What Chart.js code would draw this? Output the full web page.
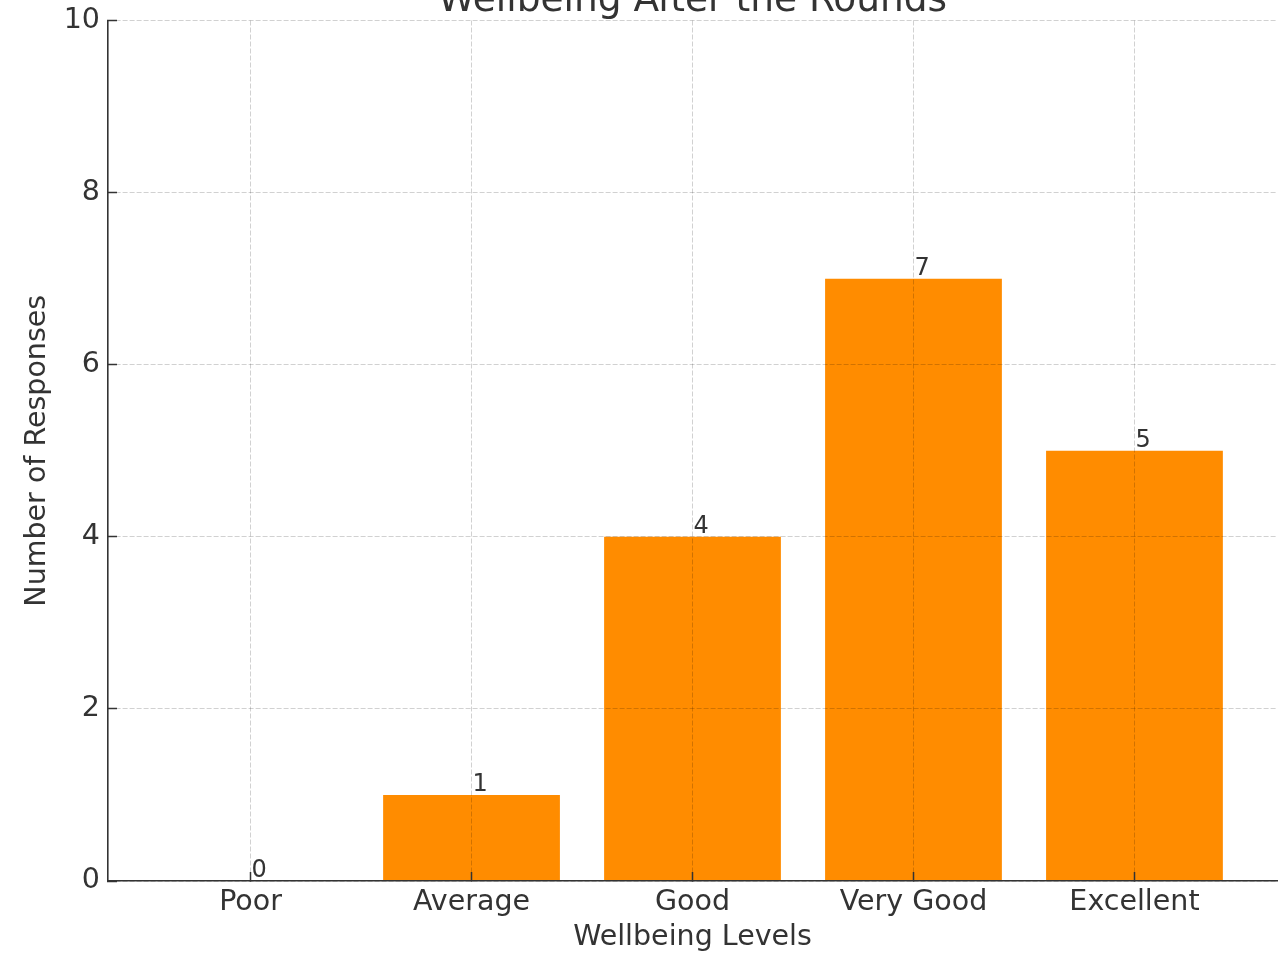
<!DOCTYPE html>
<html>
<head>
<meta charset="utf-8">
<script src="https://cdn.jsdelivr.net/npm/chart.js@4"></script>
<style>
  html, body { margin: 0; padding: 0; background: #fff; overflow: hidden; }
  #wrap { position: absolute; left: 0; top: -40px; width: 1281px; height: 995px; }
</style>
</head>
<body>
<div id="wrap"><canvas id="chart" width="1281" height="995"></canvas></div>
<script>
const categories = ["Poor", "Average", "Good", "Very Good", "Excellent"];
const responses = [0, 1, 4, 7, 5];
const yTicks = [0, 2, 4, 6, 8, 10];

const FONT = "'DejaVu Sans', sans-serif";
const TEXT = "#333333";
const GRID = "rgba(0,0,0,0.18)";
const LABEL_SIZE = 28.5;

// value labels sit just above each bar, starting at the bar's centre
const barLabels = {
  id: "barLabels",
  afterDraw(chart) {
    const ctx = chart.ctx;
    const meta = chart.getDatasetMeta(0);
    ctx.save();
    ctx.font = "24px " + FONT;
    ctx.fillStyle = TEXT;
    ctx.textAlign = "left";
    ctx.textBaseline = "alphabetic";
    meta.data.forEach((bar, i) => {
      ctx.fillText(String(responses[i]), bar.x + 1, bar.y - 4);
    });
    ctx.restore();
  }
};

new Chart(document.getElementById("chart"), {
  type: "bar",
  data: {
    datasets: [{
      data: responses.map((v, i) => ({ x: i, y: v })),
      backgroundColor: "#ff8c00",
      borderWidth: 0,
      categoryPercentage: 0.8,
      barPercentage: 1
    }]
  },
  options: {
    responsive: false,
    animation: false,
    layout: { padding: { top: 0, right: 4, bottom: 0, left: 0 } },
    plugins: {
      legend: { display: false },
      tooltip: { enabled: false },
      title: {
        display: true,
        fullSize: false,
        text: "Wellbeing After the Rounds",
        color: TEXT,
        font: { family: FONT, size: 37.5, weight: "normal", lineHeight: 1 },
        padding: { top: 23, bottom: 0 }
      }
    },
    scales: {
      x: {
        type: "linear",
        offset: false,
        min: -0.645,
        max: 4.645,
        afterBuildTicks: s => { s.ticks = categories.map((_, i) => ({ value: i })); },
        afterFit: s => { s.height = 74; },
        ticks: {
          autoSkip: false,
          maxRotation: 0,
          padding: 13.6,
          color: TEXT,
          font: { family: FONT, size: LABEL_SIZE, lineHeight: 1.2 },
          callback: v => categories[v]
        },
        grid: {
          z: 1,
          offset: false,
          color: GRID,
          lineWidth: 1,
          drawTicks: true,
          tickLength: -9,
          tickColor: TEXT,
          tickWidth: 1.5,
          tickBorderDash: []
        },
        border: { z: 2, display: true, color: TEXT, width: 1.6, dash: [5, 2] },
        title: {
          display: true,
          text: "Wellbeing Levels",
          color: TEXT,
          font: { family: FONT, size: LABEL_SIZE, lineHeight: 1.2 },
          padding: { top: 0, bottom: 0 }
        }
      },
      y: {
        min: 0,
        max: 10,
        afterBuildTicks: s => { s.ticks = yTicks.map(v => ({ value: v })); },
        afterFit: s => { s.width = 108; },
        ticks: {
          padding: 17,
          color: TEXT,
          font: { family: FONT, size: LABEL_SIZE, lineHeight: 1.2 }
        },
        grid: {
          z: 1,
          color: GRID,
          lineWidth: 1,
          drawTicks: true,
          tickLength: -9,
          tickColor: TEXT,
          tickWidth: 1.5,
          tickBorderDash: []
        },
        border: { z: 2, display: true, color: TEXT, width: 1.6, dash: [5, 2] },
        title: {
          display: true,
          text: "Number of Responses",
          color: TEXT,
          font: { family: FONT, size: LABEL_SIZE, lineHeight: 1.2 },
          padding: { top: 20, bottom: 0 }
        }
      }
    }
  },
  plugins: [barLabels]
});
</script>
</body>
</html>
